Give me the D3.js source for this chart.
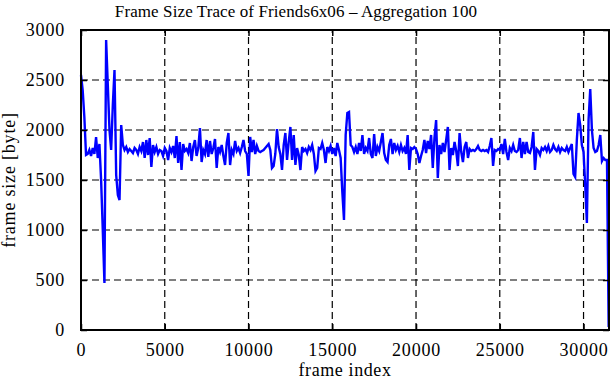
<!DOCTYPE html>
<html>
<head>
<meta charset="utf-8">
<script src="https://cdn.jsdelivr.net/npm/d3@7"></script>
<style>
  body { margin: 0; background: #fff; }
  svg text { font-family: "Liberation Serif", "DejaVu Serif", serif; fill: #000; }
</style>
</head>
<body>
<div id="chart"></div>
<script>
// Frame size trace, aggregation 100 -> one value per 100 frames
const step = 100;
const frameSize = [
  2550, 2400, 2130, 1750, 1760, 1800, 1740, 1820, 1760, 1930,
  1720, 1860, 1500, 1000, 470, 2900, 2450, 2000, 1800, 2250,
  2600, 1550, 1350, 1300, 2050, 1850, 1800, 1830, 1780, 1810,
  1790, 1770, 1820, 1800, 1760, 1830, 1790, 1880, 1720, 1900,
  1750, 1920, 1630, 1850, 1780, 1830, 1760, 1800, 1790, 1740,
  1820, 1790, 1700, 1820, 1780, 1840, 1720, 1940, 1670, 1880,
  1600, 1860, 1790, 1810, 1770, 1870, 1690, 1830, 1900, 1740,
  1820, 2020, 1680, 1800, 1760, 1900, 1730, 1890, 1760, 1820,
  1910, 1620, 1830, 1780, 1850, 1740, 1650, 1870, 1970, 1650,
  1800, 1760, 1890, 1790, 1820, 1770, 1830, 1900, 1790, 1760,
  1540, 1930, 1780, 1900, 1760, 1840, 1790, 1780, 1790, 1800,
  1820, 1840, 1860, 1800, 1620, 1640, 1760, 2010, 1830, 1760,
  1600, 1850, 1970, 1700, 1880, 2030, 1700, 1950, 1650, 1820,
  1750, 1600, 1830, 1790, 1810, 1770, 1830, 1800, 1850, 1760,
  1590, 1620, 1820, 1810, 1870, 1800, 1670, 1830, 1790, 1840,
  1760, 1820, 1740, 1870, 1800, 1720, 1380, 1100, 1950, 2170,
  2180, 1850, 1830, 1780, 1830, 1760, 1870, 1790, 1950, 1760,
  1820, 1790, 1920, 1760, 1720, 1960, 1740, 1830, 1790, 1880,
  1970, 1770, 1700, 1680, 1850, 1910, 1760, 1870, 1800, 1840,
  1780, 1850, 1790, 1820, 1760, 1950, 1600, 1820, 1810, 1830,
  1810, 1760, 1670, 1740, 1800, 1900, 1770, 1890, 1810, 1950,
  1620, 1920, 2100, 1520, 1850, 1760, 1870, 1780, 1900, 2030,
  1600, 1820, 1750, 1880, 1790, 1640, 1970, 1780, 1680, 1830,
  1880, 1720, 1810, 1790, 1800, 1790, 1810, 1840, 1800, 1790,
  1800, 1790, 1800, 1780, 1840, 1920, 1640, 1800, 1790, 1810,
  1800, 1860, 1760, 1910, 1780, 1700, 1820, 1790, 1850, 1790,
  1780, 1800, 1920, 1720, 1880, 1760, 1880, 1780, 1770, 1830,
  1980, 1600, 1810, 1790, 1750, 1820, 1800, 1830, 1790, 1840,
  1780, 1800, 1850, 1810, 1790, 1830, 1780, 1820, 1800, 1790,
  1830, 1780, 1820, 1860, 1560, 1530, 1900, 2170, 2050, 1850,
  1780, 1450, 1070, 2100, 2410, 2000, 1820, 1780, 1790, 1850,
  1950, 1690, 1720, 1700, 1700, 30
];
const xTicks = [0, 5000, 10000, 15000, 20000, 25000, 30000];
const yTicks = [0, 500, 1000, 1500, 2000, 2500, 3000];
const xMax = 31520;

const W = 611, H = 380;
const margin = { top: 30, right: 2, bottom: 50, left: 81 };

const svg = d3.select("#chart").append("svg")
    .attr("width", W)
    .attr("height", H);

const x = d3.scaleLinear().domain([0, xMax]).range([margin.left, W - margin.right]);
const y = d3.scaleLinear().domain([0, 3000]).range([H - margin.bottom, margin.top]);

const data = frameSize.map((v, i) => ({ frame: i * step, size: v }));

// dashed grid
svg.append("g")
    .selectAll("line")
    .data(xTicks.slice(1))
  .enter().append("line")
    .attr("x1", d => x(d)).attr("x2", d => x(d))
    .attr("y1", y(0)).attr("y2", y(3000))
    .attr("stroke", "#000").attr("stroke-width", 1.2)
    .attr("stroke-dasharray", "7,4");

svg.append("g")
    .selectAll("line")
    .data(yTicks.slice(1, -1))
  .enter().append("line")
    .attr("x1", x(0)).attr("x2", x(xMax))
    .attr("y1", d => y(d)).attr("y2", d => y(d))
    .attr("stroke", "#000").attr("stroke-width", 1.2)
    .attr("stroke-dasharray", "7,4");

// data line
svg.append("path")
    .datum(data)
    .attr("fill", "none")
    .attr("stroke", "#0000ff")
    .attr("stroke-width", 2.4)
    .attr("d", d3.line().x(d => x(d.frame)).y(d => y(d.size)));

// axes with inward ticks, mirrored on top and right
const fmt = d3.format("d");
svg.append("g")
    .attr("transform", "translate(0," + y(0) + ")")
    .call(d3.axisBottom(x).tickValues(xTicks).tickFormat(fmt).tickSizeInner(-6).tickSizeOuter(0).tickPadding(13));
svg.append("g")
    .attr("transform", "translate(" + x(0) + ",0)")
    .call(d3.axisLeft(y).tickValues(yTicks).tickFormat(fmt).tickSizeInner(-6).tickSizeOuter(0).tickPadding(16));
svg.append("g")
    .attr("transform", "translate(0," + y(3000) + ")")
    .call(d3.axisTop(x).tickValues(xTicks).tickSizeInner(-6).tickSizeOuter(0).tickFormat(""));
svg.append("g")
    .attr("transform", "translate(" + x(xMax) + ",0)")
    .call(d3.axisRight(y).tickValues(yTicks).tickSizeInner(-6).tickSizeOuter(0).tickFormat(""));

svg.selectAll(".domain").remove();
svg.selectAll(".tick line").attr("stroke", "#000").attr("stroke-width", 1.5);
svg.selectAll(".tick text")
    .attr("fill", "#000")
    .attr("font-family", "'Liberation Serif', serif")
    .attr("font-size", 18)
    .attr("letter-spacing", 0.8);

// border
svg.append("rect")
    .attr("x", x(0)).attr("y", y(3000))
    .attr("width", x(xMax) - x(0)).attr("height", y(0) - y(3000))
    .attr("fill", "none").attr("stroke", "#000").attr("stroke-width", 2);

// title and labels
svg.append("text")
    .attr("x", 296).attr("y", 17)
    .attr("text-anchor", "middle")
    .attr("font-size", 17)
    .attr("letter-spacing", 0.1)
    .text("Frame Size Trace of Friends6x06 \u2013 Aggregation 100");

svg.append("text")
    .attr("x", 345).attr("y", 376)
    .attr("text-anchor", "middle")
    .attr("font-size", 18)
    .attr("letter-spacing", 0.6)
    .text("frame index");

svg.append("text")
    .attr("transform", "translate(15," + y(1500) + ") rotate(-90)")
    .attr("text-anchor", "middle")
    .attr("font-size", 18)
    .attr("letter-spacing", 0.8)
    .text("frame size [byte]");
</script>
</body>
</html>
